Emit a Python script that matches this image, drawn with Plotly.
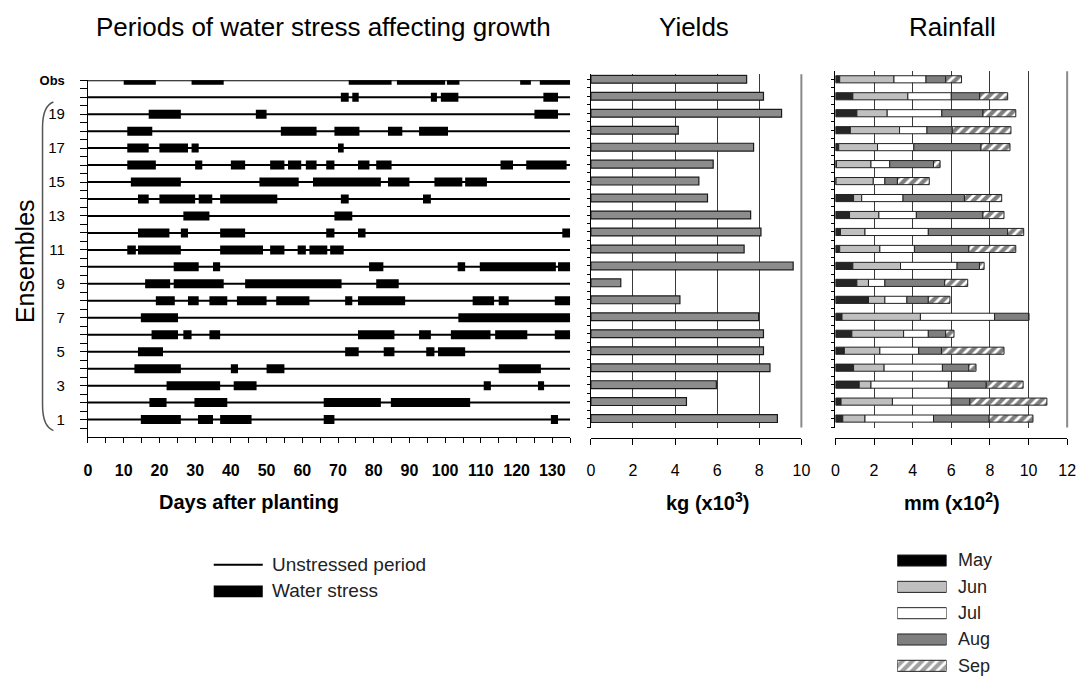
import plotly.graph_objects as go
import numpy as np

W, H = 1089, 679

# ---------------- data ----------------
ROW_NAMES = ["Obs", "20", "19", "18", "17", "16", "15", "14", "13", "12", "11",
             "10", "9", "8", "7", "6", "5", "4", "3", "2", "1"]
ROW_POS = list(range(21, 0, -1))          # Obs at top, ensemble 1 at bottom
LABELLED = [(p, n) for p, n in zip(ROW_POS, ROW_NAMES) if n == "Obs" or int(n) % 2 == 1]
Y_TICK_VALS = [p for p, _ in LABELLED]
Y_TICK_TEXT = ['<span style="font-size:13px"><b>Obs</b></span>' if n == "Obs" else n
               for _, n in LABELLED]
Y_MINOR_VALS = [p for p in ROW_POS if p not in Y_TICK_VALS] + [p - 0.5 for p in ROW_POS]

SEASON_END = 135   # days after planting
DAY_TICKS = list(range(0, 131, 10))

# water stress periods (start day, end day) per row, top to bottom
STRESS_PERIODS = [
    [(10, 19), (29, 38), (73, 85), (86.5, 100), (100.5, 104), (121, 124), (126.5, 135)],
    [(70.8, 73), (74, 75.8), (96, 97.7), (98.8, 103.7), (127.5, 131.6)],
    [(17, 26), (47, 50), (125, 131.6)],
    [(11, 18), (54, 64), (69, 76), (84, 88), (92.7, 100.8)],
    [(11, 17), (20, 28), (29, 31), (70, 71.6)],
    [(11, 19), (30, 32), (40, 44), (51, 55), (56, 59.7), (61, 64), (66.7, 69), (75.6, 78.8),
     (80.7, 85), (115.5, 119), (122.7, 134)],
    [(12, 26), (48, 59), (63, 82), (84, 90), (97, 104.8), (105.6, 111.7)],
    [(14, 17), (20, 30), (31, 34.8), (37, 53), (70.8, 73), (93.8, 96)],
    [(26.7, 34), (69, 74)],
    [(14, 22.8), (26, 28), (37, 44), (66.7, 69), (75.6, 77.7), (132.8, 135)],
    [(11, 13.4), (14, 26), (37, 49), (51, 55), (58.7, 61), (62, 67), (67.8, 71.6)],
    [(24, 31), (35, 37), (78.7, 82.7), (103.5, 105.6), (109.7, 131), (131.6, 135)],
    [(16, 23), (24, 38), (44, 71), (80.7, 87)],
    [(19, 24.3), (28, 31), (34, 39), (41.7, 50), (52.7, 62), (72, 74), (75.6, 88.8),
     (107.7, 113.7), (115, 117.8), (130.7, 135)],
    [(14.8, 25.2), (103.7, 135)],
    [(17.8, 25.2), (26.7, 29), (34, 37), (75.6, 85.8), (92.7, 96), (101.6, 112.7),
     (114, 123), (130.7, 135)],
    [(14, 21), (72, 75.8), (82.8, 85.8), (94.7, 97), (98, 105.6)],
    [(13, 26), (40, 42), (50, 55), (115, 126.8)],
    [(22, 37), (40.8, 47.2), (110.8, 112.8), (126, 127.7)],
    [(17.2, 22), (29.8, 39), (66, 82), (84.8, 107)],
    [(14.8, 26), (30.8, 35), (37, 45.8), (66, 69), (129.6, 131.6)],
]

# yields, kg (x10^3), top to bottom
YIELDS = [7.40, 8.20, 9.06, 4.15, 7.73, 5.81, 5.13, 5.54, 7.59, 8.08, 7.28,
          9.61, 1.42, 4.23, 7.97, 8.20, 8.20, 8.51, 5.96, 4.54, 8.86]
YIELD_TICKS = [0, 2, 4, 6, 8, 10]

# monthly rainfall, mm (x10^2), top to bottom
MONTHS = ["May", "Jun", "Jul", "Aug", "Sep"]
RAIN_MAY = [0.22, 0.90, 1.11, 0.77, 0.17, 0.05, 0.03, 0.94, 0.73, 0.26, 0.22,
            0.90, 1.11, 1.71, 0.34, 0.85, 0.46, 0.94, 1.23, 0.29, 0.38]
RAIN_JUN = [2.81, 2.85, 1.57, 2.55, 2.01, 1.79, 1.93, 0.42, 1.52, 1.27, 2.08,
            2.47, 0.60, 0.85, 4.06, 2.68, 1.84, 1.58, 0.61, 2.66, 1.15]
RAIN_JUL = [1.66, 2.25, 2.83, 1.42, 1.88, 0.97, 0.60, 2.14, 1.94, 3.28, 1.79,
            2.93, 0.85, 1.14, 3.84, 1.28, 2.01, 3.02, 4.01, 3.05, 3.55]
RAIN_AUG = [1.02, 1.47, 2.13, 1.31, 3.48, 2.27, 0.65, 3.18, 3.45, 4.11, 2.82,
            1.16, 3.10, 1.11, 1.77, 0.90, 1.18, 1.37, 1.96, 0.96, 2.88]
RAIN_SEP = [0.82, 1.45, 1.70, 3.04, 1.50, 0.34, 1.65, 1.93, 1.09, 0.83, 2.43,
            0.24, 1.19, 1.12, 0.00, 0.43, 3.24, 0.37, 1.91, 3.99, 2.27]
RAIN_TICKS = [0, 2, 4, 6, 8, 10, 12]

# ---------------- styles ----------------
FONT = "Liberation Sans, Arial, sans-serif"
MONTH_FILL = {"May": "#262626", "Jun": "#bfbfbf", "Jul": "#ffffff", "Aug": "#7f7f7f", "Sep": "#ffffff"}
MONTH_PATTERN = {"May": "", "Jun": "", "Jul": "", "Aug": "", "Sep": "/"}
PATTERN = dict(fgcolor="black", bgcolor="white", size=7, solidity=0.6)


def px(x):
    return x / W


def py(y):
    return 1 - y / H


fig = go.Figure()

# ---- panel 1: stress periods ----
lx, ly = [], []
for pos in ROW_POS:
    lx += [0, SEASON_END, None]
    ly += [pos, pos, None]
fig.add_trace(go.Scatter(x=lx, y=ly, mode="lines", line=dict(color="black", width=2),
                         xaxis="x", yaxis="y", hoverinfo="skip", showlegend=False))

s_rows, s_start, s_len = [], [], []
for pos, periods in zip(ROW_POS, STRESS_PERIODS):
    for s, e in periods:
        s_rows.append(pos)
        s_start.append(s)
        s_len.append(e - s)
fig.add_trace(go.Bar(orientation="h", y=s_rows, x=s_len, base=s_start, width=0.53,
                     marker=dict(color="black", line=dict(width=0)),
                     xaxis="x", yaxis="y", showlegend=False))

# ---- panel 2: yields ----
fig.add_trace(go.Bar(orientation="h", y=ROW_POS, x=YIELDS, width=0.46,
                     marker=dict(color="#8c8c8c", line=dict(color="#1a1a1a", width=1.2)),
                     xaxis="x2", yaxis="y2", showlegend=False))

# ---- panel 3: rainfall (stacked via cumulative bases) ----
rain = {"May": RAIN_MAY, "Jun": RAIN_JUN, "Jul": RAIN_JUL, "Aug": RAIN_AUG, "Sep": RAIN_SEP}
base = np.zeros(len(ROW_POS))
for m in MONTHS:
    vals = np.array(rain[m])
    fig.add_trace(go.Bar(orientation="h", y=ROW_POS, x=vals, base=base.copy(), width=0.42,
                         marker=dict(color=MONTH_FILL[m], line=dict(color="#222222", width=1),
                                     pattern=dict(shape=MONTH_PATTERN[m], **PATTERN)),
                         xaxis="x3", yaxis="y3", name=m, showlegend=False))
    base = base + vals

# ---- legend keys on hidden axes ----
fig.add_trace(go.Scatter(x=[0, 1], y=[1.5, 1.5], mode="lines", line=dict(color="black", width=2),
                         xaxis="x4", yaxis="y4", showlegend=False, hoverinfo="skip"))
fig.add_trace(go.Bar(orientation="h", y=[0.5], x=[1], base=[0], width=0.44,
                     marker=dict(color="black", line=dict(width=0)),
                     xaxis="x4", yaxis="y4", showlegend=False))
leg_y = [4.5, 3.5, 2.5, 1.5, 0.5]
fig.add_trace(go.Bar(orientation="h", y=leg_y, x=[1] * 5, base=[0] * 5, width=0.42,
                     marker=dict(color=["#000000"] + [MONTH_FILL[m] for m in MONTHS[1:]],
                                 line=dict(color="#222222", width=1),
                                 pattern=dict(shape=[MONTH_PATTERN[m] for m in MONTHS], **PATTERN)),
                     xaxis="x5", yaxis="y5", showlegend=False))

annotations = []
for i, t in enumerate(["Unstressed period", "Water stress"]):
    annotations.append(dict(text=t, x=px(269), y=py(563 + 27 * i), xref="paper", yref="paper",
                            xanchor="left", yanchor="middle", showarrow=False,
                            font=dict(size=19, color="#222222", family=FONT)))
for i, m in enumerate(MONTHS):
    annotations.append(dict(text=m, x=px(964), y=py(559 + 26.6 * i), xref="paper", yref="paper",
                            xanchor="left", yanchor="middle", showarrow=False,
                            font=dict(size=18, color="#222222", family=FONT)))

# titles
for t, x in [("Periods of water stress affecting growth", 323), ("Yields", 698), ("Rainfall", 960)]:
    annotations.append(dict(text=t, x=px(x), y=py(20), xref="paper", yref="paper",
                            xanchor="center", yanchor="middle", showarrow=False,
                            font=dict(size=26, color="black", family=FONT)))
for t, x in [("Days after planting", 248), ("kg (x10<sup>3</sup>)", 712), ("mm (x10<sup>2</sup>)", 959)]:
    annotations.append(dict(text=t, x=px(x), y=py(500), xref="paper", yref="paper",
                            xanchor="center", yanchor="middle", showarrow=False,
                            font=dict(size=20, color="black", family=FONT, weight="bold")))
annotations.append(dict(text="Ensembles", x=px(22), y=py(257), xref="paper", yref="paper",
                        xanchor="center", yanchor="middle", textangle=-90, showarrow=False,
                        font=dict(size=25, color="black", family=FONT)))


# bracket around ensembles
def pt(x, y):
    return f"{px(x):.5f},{py(y):.5f}"


bracket = (f"M {pt(50, 96)} Q {pt(39, 100)} {pt(39, 122)} L {pt(39, 402)} "
           f"Q {pt(39, 424)} {pt(50, 428)}")
shapes = [
    dict(type="path", path=bracket, xref="paper", yref="paper",
         line=dict(color="#555555", width=1.5)),
    dict(type="line", xref="x2 domain", yref="y2 domain", x0=1, x1=1, y0=0, y1=1,
         line=dict(color="#8a8a8a", width=2), layer="above"),
    dict(type="line", xref="x3 domain", yref="y3 domain", x0=1, x1=1, y0=0, y1=1,
         line=dict(color="#8a8a8a", width=2), layer="above"),
]

axis_common = dict(showline=True, linecolor="black", linewidth=1.3, zeroline=False,
                   ticks="outside", tickcolor="black", tickwidth=1.2)
panel_top2, panel_bot = 68, 425
ROW_PX = 17.14

fig.update_layout(
    width=W, height=H, margin=dict(l=0, r=0, t=0, b=0),
    paper_bgcolor="white", plot_bgcolor="white", barmode="overlay",
    font=dict(family=FONT, color="black"),
    xaxis=dict(domain=[px(85), px(573)], range=[0, SEASON_END], anchor="y",
               tickvals=DAY_TICKS, ticklen=5, showgrid=False,
               tickfont=dict(size=16, weight="bold", family=FONT), ticklabelstandoff=14,
               minor=dict(dtick=5, ticks="outside", ticklen=5, tickcolor="black", showgrid=False),
               **axis_common),
    yaxis=dict(domain=[py(434), py(74)], range=[0, 21], anchor="x",
               tickvals=Y_TICK_VALS, ticktext=Y_TICK_TEXT, ticklen=7, showgrid=False,
               tickfont=dict(size=15, family=FONT), ticklabelstandoff=12,
               minor=dict(tickvals=Y_MINOR_VALS, ticks="outside",
                          ticklen=7, tickcolor="black", showgrid=False),
               **axis_common),
    xaxis2=dict(domain=[px(594), px(807)], range=[0, 10], anchor="free", position=py(435),
                tickvals=YIELD_TICKS, ticklen=6, showgrid=True, gridcolor="#3a3a3a", gridwidth=1,
                tickfont=dict(size=16, family=FONT), ticklabelstandoff=12, **axis_common),
    yaxis2=dict(domain=[py(panel_bot), py(panel_top2)],
                range=[(433 - panel_bot) / ROW_PX, (433 - panel_top2) / ROW_PX], anchor="x2",
                tickvals=ROW_POS, ticklen=3, showticklabels=False, showgrid=False,
                minor=dict(tickvals=[p - 0.5 for p in ROW_POS], ticks="outside", ticklen=3,
                           tickcolor="black", showgrid=False),
                **axis_common),
    xaxis3=dict(domain=[px(841.5), px(1076)], range=[0, 12], anchor="free", position=py(435),
                tickvals=RAIN_TICKS, ticklen=6, showgrid=True, gridcolor="#3a3a3a", gridwidth=1,
                tickfont=dict(size=16, family=FONT), ticklabelstandoff=12, **axis_common),
    yaxis3=dict(domain=[py(panel_bot), py(65)],
                range=[(433 - panel_bot) / ROW_PX, (433 - 65) / ROW_PX], anchor="x3",
                tickvals=ROW_POS, ticklen=3, showticklabels=False, showgrid=False,
                minor=dict(tickvals=[p - 0.5 for p in ROW_POS], ticks="outside", ticklen=3,
                           tickcolor="black", showgrid=False),
                **axis_common),
    xaxis4=dict(domain=[px(212), px(262)], range=[0, 1], anchor="y4", visible=False),
    yaxis4=dict(domain=[py(604), py(550)], range=[0, 2], anchor="x4", visible=False),
    xaxis5=dict(domain=[px(904), px(954)], range=[0, 1], anchor="y5", visible=False),
    yaxis5=dict(domain=[py(679), py(546)], range=[0, 5], anchor="x5", visible=False),
    # overlay axes that add the inner half of the crossing tick marks
    xaxis6=dict(overlaying="x2", range=[0, 10], anchor="free", position=py(435),
                tickvals=YIELD_TICKS, ticks="inside", ticklen=6, tickcolor="black", tickwidth=1.2,
                showticklabels=False, showgrid=False, showline=False, zeroline=False),
    xaxis7=dict(overlaying="x3", range=[0, 12], anchor="free", position=py(435),
                tickvals=RAIN_TICKS, ticks="inside", ticklen=6, tickcolor="black", tickwidth=1.2,
                showticklabels=False, showgrid=False, showline=False, zeroline=False),
    yaxis6=dict(overlaying="y", range=[0, 21], anchor="x", side="left",
                tickvals=ROW_POS, ticks="inside", ticklen=4, tickcolor="black", tickwidth=1.2,
                showticklabels=False, showgrid=False, showline=False, zeroline=False),
    annotations=annotations,
    shapes=shapes,
)

fig.write_html("out.html")
